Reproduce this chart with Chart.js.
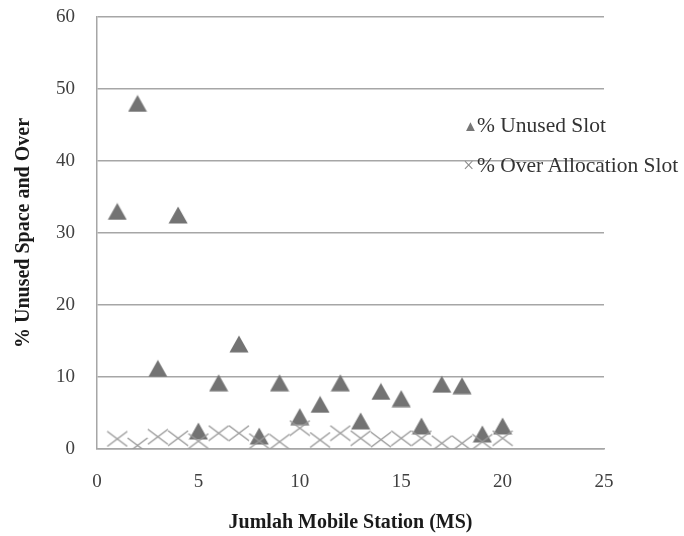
<!DOCTYPE html>
<html>
<head>
<meta charset="utf-8">
<script src="https://cdn.jsdelivr.net/npm/chart.js@4/dist/chart.umd.min.js"></script>
<style>
  body { margin: 0; background: #fff; }
  #wrap { position: relative; width: 684px; height: 536px; }
  #legend { position: absolute; left: 463px; top: 111px; font-family: "Liberation Serif", serif; font-size: 21.5px; color: #333; }
  #legend div { height: 40px; line-height: 28px; white-space: nowrap; }
  #legend .mk { color: #777; font-size: 15px; display: inline-block; width: 14px; vertical-align: 1px; }
  #legend .mk2 { color: #8a8a8a; font-size: 20px; display: inline-block; width: 14px; }
</style>
</head>
<body>
<div id="wrap">
  <canvas id="myChart" width="684" height="536"></canvas>
  <div id="legend">
    <div><span class="mk">&#9650;</span>% Unused Slot</div>
    <div><span class="mk2">&#215;</span>% Over Allocation Slot</div>
  </div>
</div>
<script>
// datos
var jumlahMS = [1, 2, 3, 4, 5, 6, 7, 8, 9, 10, 11, 12, 13, 14, 15, 16, 17, 18, 19, 20];
var unusedSlot = [33, 48, 11.2, 32.5, 2.5, 9.2, 14.6, 1.8, 9.2, 4.5, 6.2, 9.2, 3.9, 8, 7, 3.2, 9, 8.8, 2.1, 3.2];
var overAllocation = [1.4, 0.5, 1.7, 1.5, 1.1, 2.2, 2.2, 1.1, 1, 2.9, 1.25, 2.2, 1.5, 1.3, 1.5, 1.5, 0.8, 0.8, 1, 1.5];
var yTicks = [0, 10, 20, 30, 40, 50, 60];
var xTicks = [0, 5, 10, 15, 20, 25];

// marcadores como en Excel (triangulo y aspa)
function makeTriangle() {
  var c = document.createElement('canvas');
  c.width = 20; c.height = 18;
  var g = c.getContext('2d');
  g.fillStyle = '#737373';
  g.beginPath();
  g.moveTo(10, 0.5);
  g.lineTo(19.5, 17.5);
  g.lineTo(0.5, 17.5);
  g.closePath();
  g.fill();
  return c;
}
function makeCross() {
  var c = document.createElement('canvas');
  c.width = 22; c.height = 17;
  var g = c.getContext('2d');
  g.strokeStyle = '#999';
  g.lineWidth = 1.4;
  g.beginPath();
  g.moveTo(1, 1); g.lineTo(21, 16);
  g.moveTo(21, 1); g.lineTo(1, 16);
  g.stroke();
  return c;
}

function toPoints(xs, ys) {
  var out = [];
  for (var i = 0; i < xs.length; i++) out.push({ x: xs[i], y: ys[i] });
  return out;
}

var ctx = document.getElementById('myChart').getContext('2d');
var tickFont = { family: 'Liberation Serif', size: 19 };
var titleFont = { family: 'Liberation Serif', size: 20, weight: 'bold' };

var myChart = new Chart(ctx, {
  type: 'scatter',
  data: {
    datasets: [
      {
        label: '% Over Allocation Slot',
        data: toPoints(jumlahMS, overAllocation),
        pointStyle: makeCross(),
        pointRadius: 11
      },
      {
        label: '% Unused Slot',
        data: toPoints(jumlahMS, unusedSlot),
        pointStyle: makeTriangle(),
        pointRadius: 10
      }
    ]
  },
  options: {
    responsive: false,
    animation: false,
    layout: { padding: { top: 17, right: 80, left: 0, bottom: 0 } },
    plugins: {
      legend: { display: false },
      tooltip: { enabled: false }
    },
    scales: {
      x: {
        type: 'linear',
        min: 0,
        max: 25,
        afterFit: function (scale) {
          scale.height = 87;
          scale.paddingLeft = 0;
          scale.paddingRight = 0;
        },
        afterBuildTicks: function (scale) {
          scale.ticks = xTicks.map(function (v) { return { value: v }; });
        },
        grid: { display: false, drawTicks: false },
        border: { display: true, color: '#a6a6a6', width: 1.5 },
        ticks: { font: tickFont, color: '#404040', padding: 22 },
        title: { display: true, text: 'Jumlah Mobile Station (MS)', font: titleFont, color: '#1a1a1a', padding: { top: 0, bottom: 1 } }
      },
      y: {
        type: 'linear',
        min: 0,
        max: 60,
        afterFit: function (scale) {
          scale.width = 97;
          scale.paddingTop = 0;
          scale.paddingBottom = 0;
        },
        afterBuildTicks: function (scale) {
          scale.ticks = yTicks.map(function (v) { return { value: v }; });
        },
        grid: { color: '#a6a6a6', lineWidth: 1.5, drawTicks: false },
        border: { display: true, color: '#a6a6a6', width: 1.5 },
        ticks: { font: tickFont, color: '#404040', padding: 22 },
        title: { display: true, text: '% Unused Space and Over', font: titleFont, color: '#1a1a1a', padding: { top: 12, bottom: 0 } }
      }
    }
  }
});
</script>
</body>
</html>
